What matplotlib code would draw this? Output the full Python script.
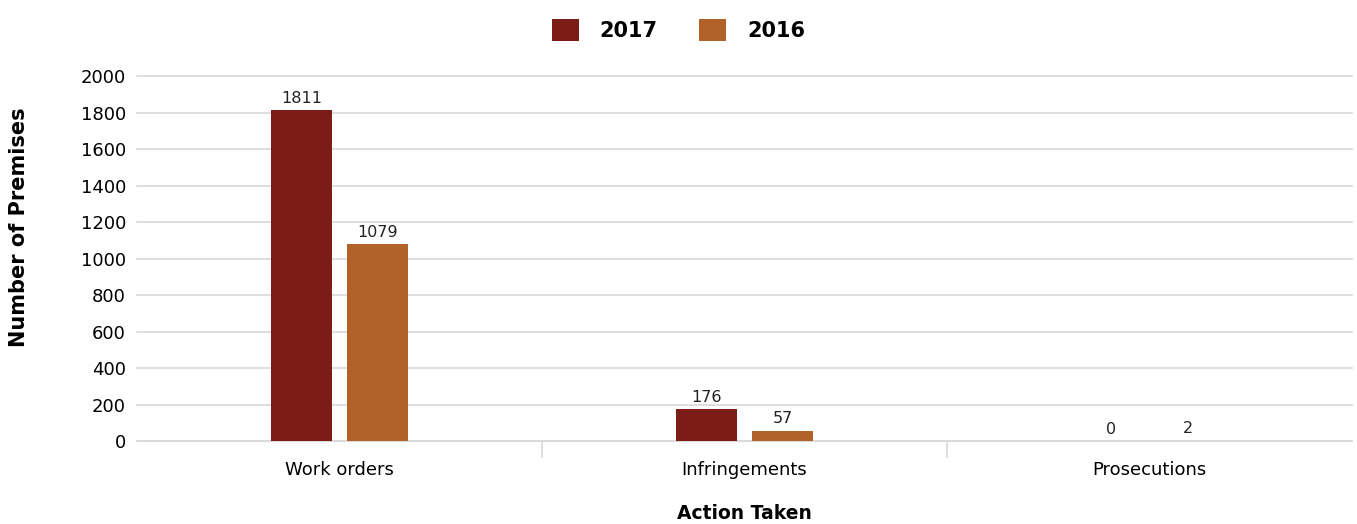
import numpy as np
import matplotlib.pyplot as plt
from matplotlib.ticker import FixedLocator

categories = ['Work orders', 'Infringements', 'Prosecutions']
years = ['2017', '2016']
values_2017 = [1811, 176, 0]
values_2016 = [1079, 57, 2]
yticks = [0, 200, 400, 600, 800, 1000, 1200, 1400, 1600, 1800, 2000]

colors = ['#7B1C16', '#B0622A']

fig = plt.figure(figsize=(13.57, 5.24), dpi=100)
ax = fig.add_axes([0.101, 0.158, 0.8953, 0.697])

x = np.arange(len(categories))
width = 0.15
offset = 0.094
for vals, off, col, lab in [(values_2017, -offset, colors[0], years[0]),
                            (values_2016, offset, colors[1], years[1])]:
    bars = ax.bar(x + off, vals, width, color=col, label=lab, zorder=3)
    for b, v in zip(bars, vals):
        ax.text(b.get_x() + b.get_width() / 2, v + 25, str(v),
                ha='center', va='bottom', fontsize=11.5, color='#222222')

ax.set_xlim(-0.5, 2.5)
ax.set_ylim(0, 2000)
ax.set_yticks(yticks)
ax.yaxis.grid(True, color='#d9d9d9', linewidth=1.2, zorder=0)
for gl in ax.yaxis.get_gridlines():
    gl.set_clip_on(False)
ax.tick_params(axis='y', length=0, labelsize=13, pad=8)

ax.set_xticks(x)
ax.set_xticklabels(categories, fontsize=13)
ax.tick_params(axis='x', length=0, pad=14)
ax.xaxis.set_minor_locator(FixedLocator([0.5, 1.5]))
ax.tick_params(axis='x', which='minor', length=12, color='#d9d9d9', width=1.2)

for s in ['top', 'right', 'left']:
    ax.spines[s].set_visible(False)
ax.spines['bottom'].set_color('#d9d9d9')
ax.spines['bottom'].set_linewidth(1.2)

ax.set_xlabel('Action Taken', fontsize=13.5, fontweight='bold', labelpad=18)
ax.set_ylabel('Number of Premises', fontsize=15, fontweight='bold')
ax.yaxis.set_label_coords(-0.089, 0.586)

fig.legend(loc='upper center', bbox_to_anchor=(0.5, 1.0), ncol=2,
           frameon=False, prop={'weight': 'bold', 'size': 15},
           handlelength=1.3, handleheight=1.3, columnspacing=2.0, handletextpad=1.0)

fig.savefig('out.png', dpi=100)
